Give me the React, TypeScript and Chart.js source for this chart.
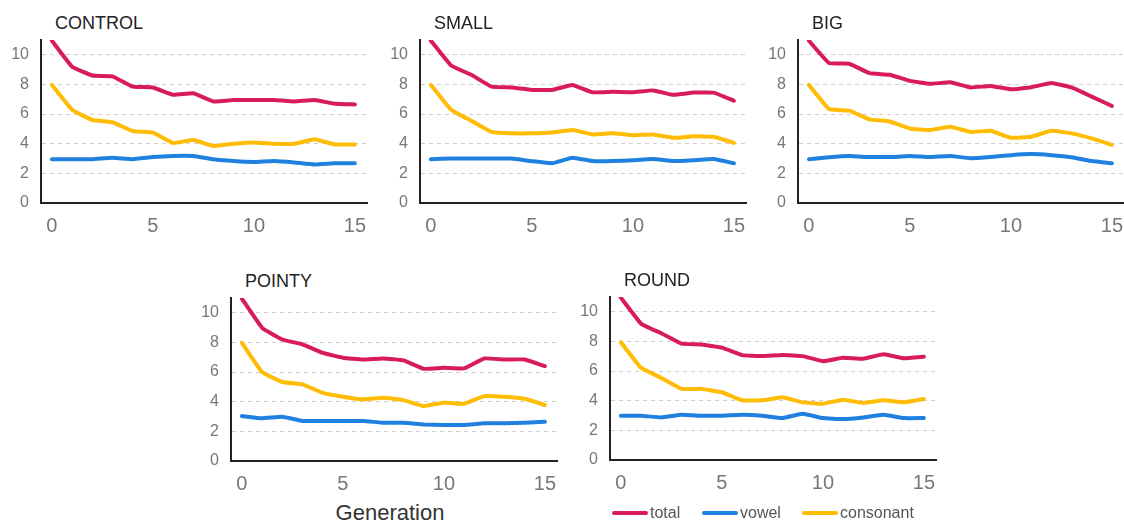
import React, { useEffect, useRef } from "react";
import { Chart, registerables } from "chart.js";

Chart.register(...registerables);

const FONT = "'Liberation Sans', Arial, sans-serif";

const generations = [0, 1, 2, 3, 4, 5, 6, 7, 8, 9, 10, 11, 12, 13, 14, 15];
const xTickValues = [0, 5, 10, 15];
const yTickValues = [0, 2, 4, 6, 8, 10];
const seriesNames = ["total", "vowel", "consonant"];
const seriesColors = ["#d81b5e", "#1f80e0", "#ffbc05"];

const controlTotal = [10.95, 9.2, 8.6, 8.55, 7.85, 7.8, 7.3, 7.4, 6.85, 6.95, 6.95, 6.95, 6.85, 6.95, 6.7, 6.65];
const controlVowel = [2.96, 2.96, 2.96, 3.05, 2.96, 3.1, 3.17, 3.17, 2.95, 2.83, 2.77, 2.84, 2.74, 2.6, 2.68, 2.68];
const controlConsonant = [7.97, 6.3, 5.6, 5.45, 4.85, 4.75, 4.05, 4.25, 3.85, 4.0, 4.08, 4.0, 4.0, 4.3, 3.95, 3.95];

const smallTotal = [10.95, 9.28, 8.65, 7.85, 7.8, 7.63, 7.63, 7.97, 7.47, 7.5, 7.47, 7.6, 7.3, 7.45, 7.45, 6.9];
const smallVowel = [2.96, 3.0, 3.0, 3.0, 3.0, 2.82, 2.68, 3.05, 2.83, 2.83, 2.89, 2.97, 2.83, 2.89, 2.97, 2.68];
const smallConsonant = [7.97, 6.3, 5.55, 4.8, 4.7, 4.7, 4.76, 4.92, 4.63, 4.7, 4.58, 4.63, 4.4, 4.5, 4.47, 4.06];

const bigTotal = [10.95, 9.44, 9.4, 8.76, 8.65, 8.24, 8.04, 8.15, 7.8, 7.9, 7.67, 7.81, 8.1, 7.8, 7.18, 6.55];
const bigVowel = [2.96, 3.09, 3.17, 3.1, 3.1, 3.17, 3.1, 3.17, 3.02, 3.1, 3.23, 3.3, 3.23, 3.09, 2.83, 2.68];
const bigConsonant = [7.97, 6.34, 6.23, 5.64, 5.5, 5.03, 4.92, 5.15, 4.8, 4.87, 4.4, 4.47, 4.87, 4.7, 4.36, 3.92];

const pointyTotal = [10.95, 8.99, 8.2, 7.87, 7.3, 6.97, 6.85, 6.92, 6.79, 6.22, 6.29, 6.25, 6.92, 6.85, 6.85, 6.4];
const pointyVowel = [3.03, 2.88, 2.99, 2.7, 2.7, 2.7, 2.7, 2.58, 2.58, 2.47, 2.43, 2.43, 2.54, 2.54, 2.58, 2.65];
const pointyConsonant = [7.98, 6.0, 5.33, 5.17, 4.6, 4.34, 4.16, 4.27, 4.11, 3.71, 3.93, 3.87, 4.38, 4.34, 4.2, 3.78];

const roundTotal = [10.95, 9.2, 8.55, 7.85, 7.8, 7.58, 7.08, 7.01, 7.08, 7.01, 6.67, 6.9, 6.83, 7.13, 6.86, 6.97];
const roundVowel = [2.99, 2.99, 2.87, 3.05, 2.99, 2.99, 3.05, 2.99, 2.83, 3.12, 2.83, 2.76, 2.87, 3.05, 2.83, 2.83];
const roundConsonant = [7.95, 6.22, 5.54, 4.8, 4.8, 4.57, 4.03, 4.03, 4.23, 3.89, 3.8, 4.07, 3.85, 4.03, 3.89, 4.12];

type Panel = {
  title: string;
  series: number[][];
  axisX: number;
  plotTop: number;
};

const panels: Panel[] = [
  { title: "CONTROL", series: [controlTotal, controlVowel, controlConsonant], axisX: 41, plotTop: 40 },
  { title: "SMALL", series: [smallTotal, smallVowel, smallConsonant], axisX: 420, plotTop: 40 },
  { title: "BIG", series: [bigTotal, bigVowel, bigConsonant], axisX: 798, plotTop: 40 },
  { title: "POINTY", series: [pointyTotal, pointyVowel, pointyConsonant], axisX: 231, plotTop: 298 },
  { title: "ROUND", series: [roundTotal, roundVowel, roundConsonant], axisX: 610, plotTop: 297 },
];

const Y_AXIS_W = 38;
const X_AXIS_H = 38;
const PAD_TOP = 6;
const PAD_RIGHT = 16;
const PLOT_W = 326;
const PLOT_H = 163;

function MiniChart({ panel }: { panel: Panel }) {
  const ref = useRef<HTMLCanvasElement | null>(null);
  useEffect(() => {
    if (!ref.current) return;
    const chart = new Chart(ref.current, {
      type: "line",
      data: {
        datasets: panel.series.map((vals, si) => ({
          label: seriesNames[si],
          data: vals.map((v, i) => ({ x: generations[i], y: v })),
          borderColor: seriesColors[si],
          backgroundColor: seriesColors[si],
          borderWidth: 4,
          pointRadius: 0,
          tension: 0.1,
          borderJoinStyle: "round",
          borderCapStyle: "round",
          fill: false,
        })),
      },
      options: {
        animation: false,
        responsive: false,
        maintainAspectRatio: false,
        layout: { padding: { top: PAD_TOP, right: PAD_RIGHT, left: 0, bottom: 0 } },
        plugins: {
          legend: { display: false },
          title: { display: false },
          tooltip: { enabled: false },
        },
        scales: {
          x: {
            type: "linear",
            min: -0.54,
            max: 15.6,
            afterBuildTicks: (scale: any) => {
              scale.ticks = xTickValues.map((v) => ({ value: v }));
            },
            afterFit: (scale: any) => {
              scale.height = X_AXIS_H;
              scale.paddingLeft = 0;
              scale.paddingRight = 0;
            },
            grid: { display: false, drawTicks: false },
            border: { display: true, color: "#222", width: 2 },
            ticks: {
              color: "#777",
              font: { family: FONT, size: 20 },
              padding: 11,
              maxRotation: 0,
              autoSkip: false,
            },
          },
          y: {
            min: 0,
            max: 11,
            afterBuildTicks: (scale: any) => {
              scale.ticks = yTickValues.map((v) => ({ value: v }));
            },
            afterFit: (scale: any) => {
              scale.width = Y_AXIS_W;
              scale.paddingTop = 0;
              scale.paddingBottom = 0;
            },
            grid: { color: "#cfcfcf", lineWidth: 1, drawTicks: false },
            border: { display: true, color: "#222", width: 2, dash: [4, 4] },
            ticks: {
              color: "#777",
              font: { family: FONT, size: 16 },
              padding: 12,
            },
          },
        },
      },
    } as any);
    return () => chart.destroy();
  }, [panel]);

  const w = Y_AXIS_W + PLOT_W + PAD_RIGHT;
  const h = PAD_TOP + PLOT_H + X_AXIS_H;
  return (
    <>
      <canvas
        ref={ref}
        width={w}
        height={h}
        style={{ position: "absolute", left: panel.axisX - Y_AXIS_W, top: panel.plotTop - PAD_TOP, width: w, height: h }}
      />
      <div
        style={{
          position: "absolute",
          left: panel.axisX + 14,
          top: panel.plotTop - 27,
          fontFamily: FONT,
          fontSize: 18,
          lineHeight: "20px",
          color: "#222",
          whiteSpace: "nowrap",
        }}
      >
        {panel.title}
      </div>
    </>
  );
}

const legendPositions = [612, 702, 802];

export default function App() {
  return (
    <div
      style={{
        position: "fixed",
        left: 0,
        top: 0,
        width: 1124,
        height: 525,
        overflow: "hidden",
        background: "#fff",
      }}
    >
      {panels.map((p) => (
        <MiniChart key={p.title} panel={p} />
      ))}
      <div
        style={{
          position: "absolute",
          left: 290,
          width: 200,
          textAlign: "center",
          top: 500,
          fontFamily: FONT,
          fontSize: 22,
          lineHeight: "26px",
          color: "#333",
        }}
      >
        Generation
      </div>
      {seriesNames.map((name, i) => (
        <div
          key={name}
          style={{
            position: "absolute",
            left: legendPositions[i],
            top: 503,
            height: 20,
            display: "flex",
            alignItems: "center",
            fontFamily: FONT,
            fontSize: 16,
            color: "#555",
            whiteSpace: "nowrap",
          }}
        >
          <span style={{ display: "inline-block", width: 36, height: 4, borderRadius: 2, background: seriesColors[i], marginRight: 2 }} />
          {name}
        </div>
      ))}
    </div>
  );
}
